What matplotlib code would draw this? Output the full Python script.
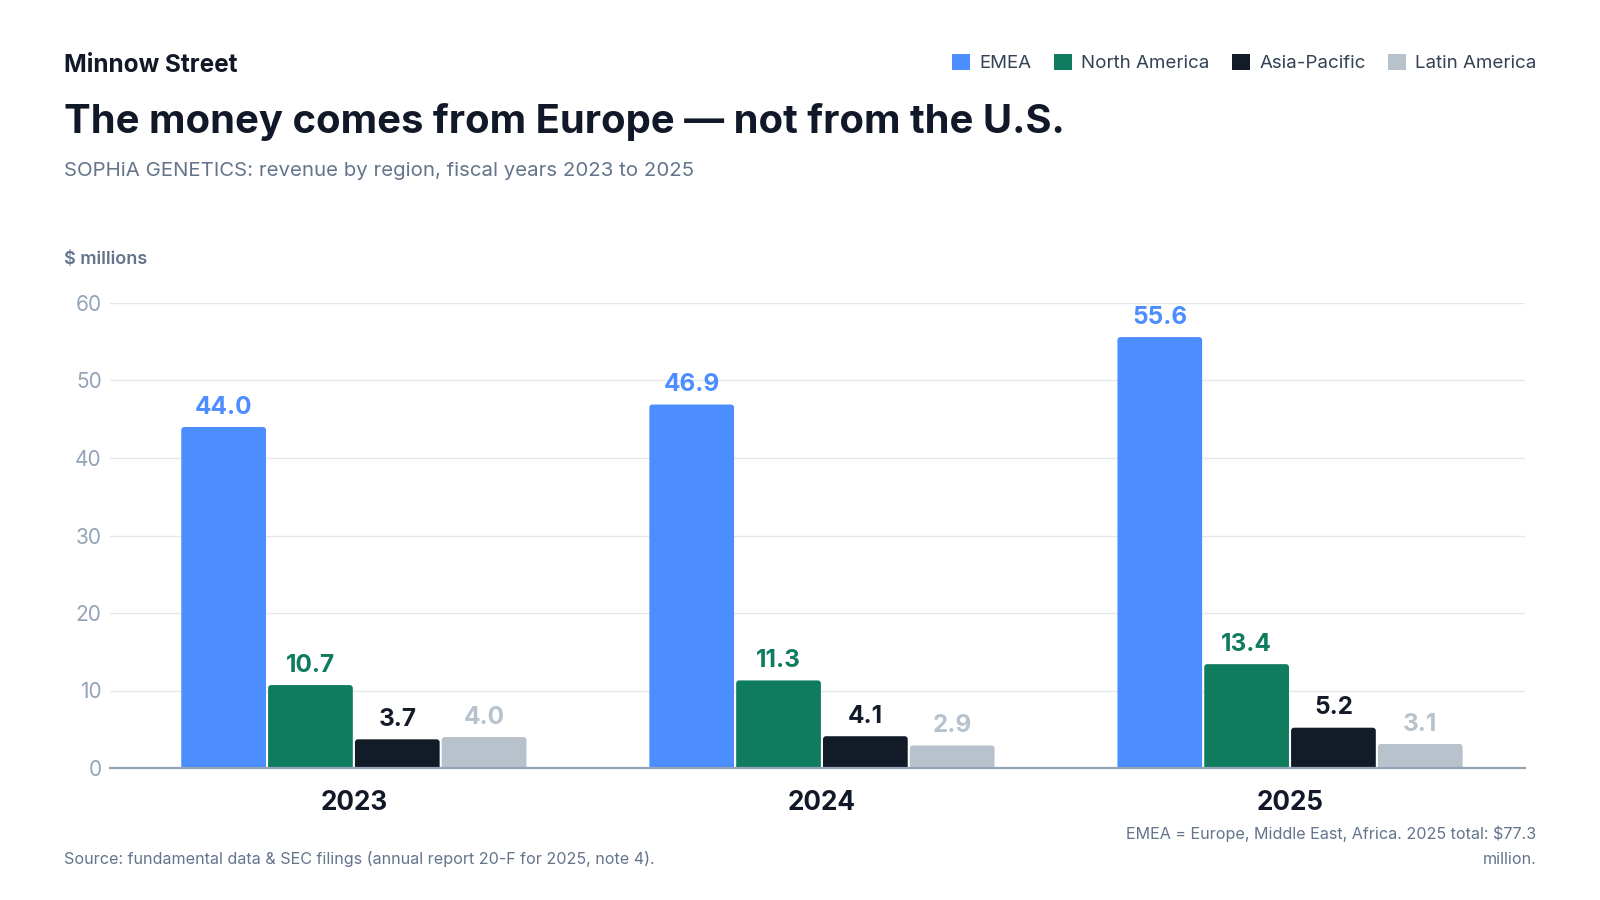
import matplotlib
matplotlib.use("Agg")
import matplotlib.pyplot as plt
from matplotlib.patches import Patch, FancyBboxPatch
import numpy as np

plt.rcParams['font.family'] = ['Inter', 'DejaVu Sans']

years = ["2023", "2024", "2025"]
regions = ["EMEA", "North America", "Asia-Pacific", "Latin America"]
emea = [44.0, 46.9, 55.6]
north_america = [10.7, 11.3, 13.4]
asia_pacific = [3.7, 4.1, 5.2]
latin_america = [4.0, 2.9, 3.1]
series = [emea, north_america, asia_pacific, latin_america]
colors = ["#4C8DFF", "#0F7B5F", "#131A28", "#B8C2CC"]
y_ticks = [0, 10, 20, 30, 40, 50, 60]

DARK = "#111827"
GRAY = "#64748B"
TICK = "#94A3B8"

fig = plt.figure(figsize=(16, 9), dpi=100)
ax = fig.add_axes([110/1600, 1-768/900, (1525-110)/1600, (768-303)/900])
ax.set_xlim(-0.521, 2.502)
ax.set_ylim(0, 60)

x = np.arange(len(years))
pitch = 0.1855
width = 0.181
# rounding radius (~3 px) expressed in data units
rx = 3.0 / (1415 / 3.023)
ry = 3.0 / (465 / 60)
for i, (vals, c) in enumerate(zip(series, colors)):
    pos = x + (i - 1.5) * pitch
    bars = ax.bar(pos, vals, width=width, color=c, zorder=3, linewidth=0)
    for b, v in zip(bars, vals):
        b.set_visible(False)
        rp = FancyBboxPatch((b.get_x(), -1.0), b.get_width(), b.get_height() + 1.0,
                            boxstyle=f"round,pad=0,rounding_size={rx}",
                            mutation_aspect=ry / rx, facecolor=c, edgecolor="none",
                            zorder=3)
        ax.add_patch(rp)
        ax.annotate(f"{v:.1f}", (b.get_x() + b.get_width()/2, v),
                    xytext=(0, 6), textcoords="offset points",
                    ha="center", va="bottom", fontsize=17.5, fontweight="bold",
                    color=c, clip_on=False)

ax.set_yticks(y_ticks)
ax.set_yticklabels([str(t) for t in y_ticks])
ax.set_xticks(x)
ax.set_xticklabels(years)
ax.tick_params(axis="x", length=0, pad=16, labelsize=18.8, labelcolor=DARK)
for lbl in ax.get_xticklabels():
    lbl.set_fontweight("bold")
ax.tick_params(axis="y", length=0, pad=6, labelsize=15, labelcolor=TICK)
ax.grid(axis="y", color="#E5E7EB", linewidth=1, zorder=0)
for s in ["top", "right", "left"]:
    ax.spines[s].set_visible(False)
ax.spines["bottom"].set_color("#94A3B8")
ax.spines["bottom"].set_linewidth(1.6)
ax.spines["bottom"].set_zorder(4)

fig.text(64/1600, 1-65/900, "Minnow Street", fontsize=17.5, fontweight="bold",
         color=DARK, ha="left", va="center")
fig.text(64/1600, 1-122/900, "The money comes from Europe — not from the U.S.",
         fontsize=28.8, fontweight="bold", color=DARK, ha="left", va="center")
fig.text(64/1600, 1-171/900, "SOPHiA GENETICS: revenue by region, fiscal years 2023 to 2025",
         fontsize=14.7, color=GRAY, ha="left", va="center")
fig.text(64/1600, 1-259/900, "$ millions", fontsize=13, fontweight="semibold",
         color=GRAY, ha="left", va="center")
fig.text(64/1600, 1-859/900, "Source: fundamental data & SEC filings (annual report 20-F for 2025, note 4).",
         fontsize=11.6, color=GRAY, ha="left", va="center")
fig.text(1536/1600, 1-846/900, "EMEA = Europe, Middle East, Africa. 2025 total: $77.3\nmillion.",
         fontsize=11.6, color=GRAY, ha="right", va="center", linespacing=1.8)

handles = [Patch(facecolor=c, edgecolor="none") for c in colors]
fig.legend(handles, regions, loc="center right", bbox_to_anchor=(1544/1600, 1-63/900),
           ncol=4, frameon=False, fontsize=13.5, handlelength=0.95, handleheight=0.95,
           handletextpad=0.5, columnspacing=1.2, labelcolor="#334155", borderaxespad=0)

fig.savefig("out.png", dpi=100, facecolor="white")
